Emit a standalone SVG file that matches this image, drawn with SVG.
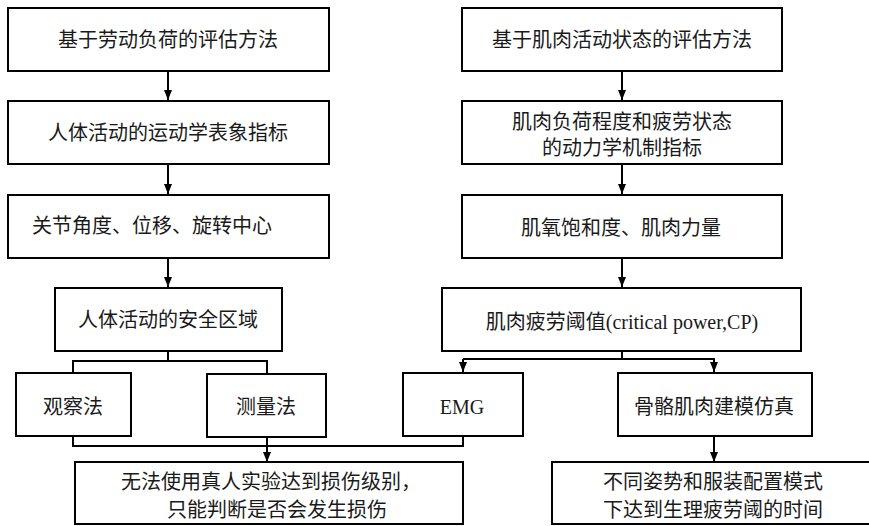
<svg xmlns="http://www.w3.org/2000/svg" width="869" height="526" viewBox="0 0 869 526">
<defs>
<style>
.box{fill:#fff;stroke:#000;stroke-width:2}
.t{font-family:"Liberation Serif","Noto Sans CJK SC",serif;font-size:20px;fill:#1a1a1a;text-anchor:middle}
.ts{text-anchor:start}
.c{fill:none;stroke:#000;stroke-width:2}
</style>
<marker id="ah" viewBox="0 0 10 10" refX="10" refY="5" markerWidth="10" markerHeight="10" markerUnits="userSpaceOnUse" orient="auto">
<path d="M0,1 L10,5 L0,9 Z" fill="#000"/>
</marker>
</defs>
<rect width="869" height="526" fill="#fff"/>
<g id="connectors">
<path class="c" d="M168,71 V100" marker-end="url(#ah)"/>
<path class="c" d="M168,164 V194" marker-end="url(#ah)"/>
<path class="c" d="M168,258 V287" marker-end="url(#ah)"/>
<path class="c" d="M168,351 V361 M73,372 V361 H267 V373"/>
<path class="c" d="M73,436 V446 H463 V436"/>
<path class="c" d="M267,437 V462" marker-end="url(#ah)"/>
<path class="c" d="M622,71 V100" marker-end="url(#ah)"/>
<path class="c" d="M622,164 V194" marker-end="url(#ah)"/>
<path class="c" d="M622,258 V287" marker-end="url(#ah)"/>
<path class="c" d="M622,351 V359 H463"/>
<path class="c" d="M463,359 V372" marker-end="url(#ah)"/>
<path class="c" d="M622,359 H714 V372" marker-end="url(#ah)"/>
<path class="c" d="M714,436 V462" marker-end="url(#ah)"/>
</g>
<g id="n1"><rect class="box" x="8" y="8" width="321" height="63"/><text class="t" x="168" y="47">基于劳动负荷的评估方法</text></g>
<g id="n2"><rect class="box" x="8" y="101" width="321" height="63"/><text class="t" x="168" y="140">人体活动的运动学表象指标</text></g>
<g id="n3"><rect class="box" x="8" y="195" width="321" height="63"/><text class="t ts" x="32" y="233">关节角度、位移、旋转中心</text></g>
<g id="n4"><rect class="box" x="55" y="288" width="227" height="63"/><text class="t" x="168" y="327">人体活动的安全区域</text></g>
<g id="n5"><rect class="box" x="16" y="373" width="115" height="63"/><text class="t" x="73" y="414">观察法</text></g>
<g id="n6"><rect class="box" x="207" y="374" width="119" height="63"/><text class="t" x="266" y="414">测量法</text></g>
<g id="n7"><rect class="box" x="75" y="462" width="388" height="62"/><text class="t" x="271" y="489">无法使用真人实验达到损伤级别，</text><text class="t" x="277" y="517">只能判断是否会发生损伤</text></g>
<g id="m1"><rect class="box" x="462" y="8" width="320" height="63"/><text class="t" x="622" y="47">基于肌肉活动状态的评估方法</text></g>
<g id="m2"><rect class="box" x="462" y="101" width="320" height="63"/><text class="t" x="622" y="129">肌肉负荷程度和疲劳状态</text><text class="t" x="622" y="155">的动力学机制指标</text></g>
<g id="m3"><rect class="box" x="462" y="195" width="320" height="63"/><text class="t" x="621" y="235">肌氧饱和度、肌肉力量</text></g>
<g id="m4"><rect class="box" x="442" y="288" width="359" height="63"/><text class="t" x="622" y="329">肌肉疲劳阈值(critical power,CP)</text></g>
<g id="m5"><rect class="box" x="403" y="373" width="120" height="63"/><text class="t" x="462" y="414">EMG</text></g>
<g id="m6"><rect class="box" x="618" y="373" width="194" height="63"/><text class="t" x="714" y="414">骨骼肌肉建模仿真</text></g>
<g id="m7"><rect class="box" x="552" y="462" width="330" height="62"/><text class="t" x="713" y="489">不同姿势和服装配置模式</text><text class="t" x="713" y="517">下达到生理疲劳阈的时间</text></g>
</svg>
